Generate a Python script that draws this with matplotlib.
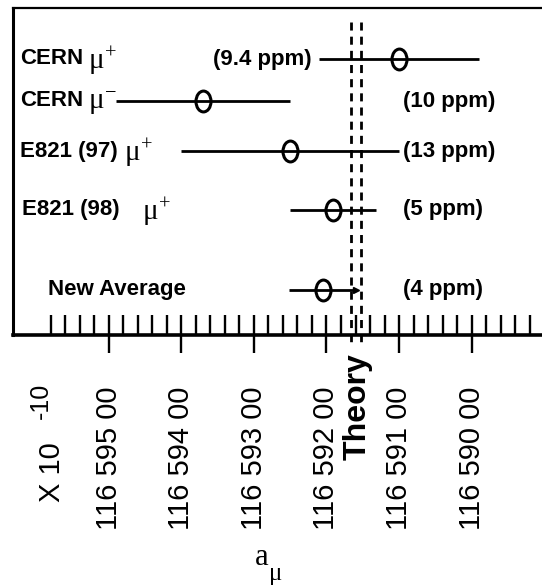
import matplotlib
matplotlib.use('Agg')
import matplotlib.pyplot as plt
from matplotlib.path import Path
from matplotlib.ticker import FixedLocator, FuncFormatter
import numpy as np

# a_mu measurements, in units of 1e-10
names = ['CERN', 'CERN', 'E821 (97)', 'E821 (98)', 'New Average']
charges = ['+', '-', '+', '+', '']
values = [11659100, 11659370, 11659250, 11659191, 11659205]
errors = [110, 120, 150, 59, 46]
ppm = ['(9.4 ppm)', '(10 ppm)', '(13 ppm)', '(5 ppm)', '(4 ppm)']
theory = 11659159.6
theory_err = 6.7
major_ticks = [11659500, 11659400, 11659300, 11659200, 11659100, 11659000]

# layout (pixel-like row positions, top = small)
row_y = [59, 101, 151, 210, 290]
label_x = [20, 20, 20, 22, 48]
mu_x = [88, 88, 124, 142, None]

plt.rcParams['font.family'] = ['Liberation Sans', 'DejaVu Sans']
plt.rcParams['mathtext.fontset'] = 'custom'
plt.rcParams['mathtext.rm'] = 'Liberation Serif'
plt.rcParams['mathtext.it'] = 'Liberation Serif'
plt.rcParams['mathtext.bf'] = 'Liberation Serif'

W, H = 542, 586
fig = plt.figure(figsize=(W / 100, H / 100), dpi=100)
ax = fig.add_axes([13 / W, 1 - 335 / H, 1 - 13 / W, (335 - 8) / H])
ax.set_xlim(11659632, 11658903)
ax.set_ylim(335, 8)

# slightly tall open "circle" marker
circ = Path.unit_circle()
ell = Path(circ.vertices * np.array([0.72, 1.0]), circ.codes)

ax.errorbar(values, row_y, xerr=errors, fmt='none', ecolor='black',
            elinewidth=2, capsize=0)
ax.plot(values, row_y, linestyle='none', marker=ell, markersize=15,
        markerfacecolor='none', markeredgecolor='black', markeredgewidth=2.2)
# little arrow head on the new average bar
ax.plot([values[4] - errors[4]], [row_y[4]], marker='>', markersize=5,
        color='black', linestyle='none')

# theory band as two dashed lines
for tv in (theory - theory_err, theory + theory_err):
    ax.plot([tv, tv], [22, 346], color='black', lw=2,
            linestyle=(0, (2.9, 2.2)), clip_on=False)

ytr = ax.get_yaxis_transform()
for name, ch, lx, mx, y in zip(names, charges, label_x, mu_x, row_y):
    ax.text((lx - 13) / (W - 13), y, name, transform=ytr,
            fontsize=16, fontweight='bold', va='center', ha='left')
    if ch:
        ax.text((mx - 13) / (W - 13), y + 2, r'$\mu^{%s}$' % ch, transform=ytr,
                fontsize=21, va='center', ha='left')

# ppm labels
ax.text(values[0] + errors[0] + 11, row_y[0], ppm[0], fontsize=16,
        fontweight='bold', va='center', ha='right')
for txt, y in zip(ppm[1:], row_y[1:]):
    ax.text(11659094, y, txt, fontsize=16, fontweight='bold',
            va='center', ha='left')

# axis styling
ax.spines['right'].set_visible(False)
ax.spines['top'].set_linewidth(1.6)
ax.spines['left'].set_linewidth(2.2)
ax.spines['bottom'].set_linewidth(2.6)
ax.set_yticks([])
ax.xaxis.set_major_locator(FixedLocator(major_ticks))
ax.xaxis.set_minor_locator(FixedLocator(np.arange(11658920, 11659581, 20)))
ax.xaxis.remove_overlapping_locs = False


def fmt(v, pos):
    s = '%d' % round(v)
    return s[:3] + ' ' + s[3:6] + ' ' + s[6:]


ax.xaxis.set_major_formatter(FuncFormatter(fmt))
ax.tick_params(axis='x', which='minor', direction='in', length=14.4, width=1.7)
ax.tick_params(axis='x', which='major', direction='out', length=13, width=1.7,
               pad=24, labelsize=21, labelrotation=90)

fig.text(358 / W, 1 - 353 / H, 'Theory', rotation=90, fontsize=23,
         fontweight='bold', ha='center', va='top')
fig.text(51.5 / W, 1 - 502 / H, 'X 10', rotation=90, fontsize=21,
         ha='center', va='bottom')
fig.text(40.5 / W, 1 - 383 / H, '-10', rotation=90, fontsize=18,
         ha='center', va='top')
fig.text(255 / W, 1 - 565 / H, 'a', family='Liberation Serif', fontsize=22,
         ha='left', va='baseline')
fig.text(269 / W, 1 - 580 / H, '\u03bc', family='Liberation Serif', fontsize=18,
         ha='left', va='baseline')

fig.savefig('out.png', dpi=100)
